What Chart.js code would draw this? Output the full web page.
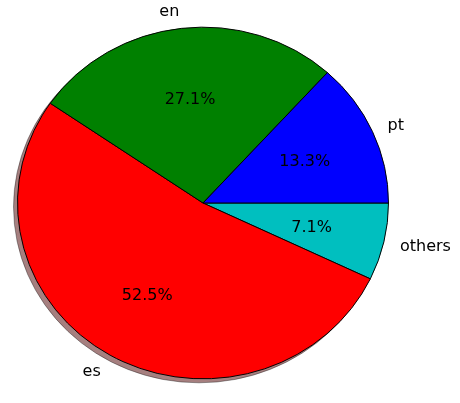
<!DOCTYPE html>
<html>
<head>
<meta charset="utf-8">
<script src="https://cdn.jsdelivr.net/npm/chart.js@4"></script>
<style>
html,body{margin:0;padding:0;background:#fff;}
#wrap{width:460px;height:403px;}
</style>
</head>
<body>
<div id="wrap"><canvas id="c" width="460" height="403"></canvas></div>
<script>
// Slices in matplotlib order (counter-clockwise from east)
const categories = ['pt', 'en', 'es', 'others'];
const shares = [13.3, 27.1, 52.5, 7.1];
const sliceColors = ['#0000ff', '#008000', '#ff0000', '#00bfbf'];

// Chart.js draws clockwise, so reverse the order
const cjLabels = categories.slice().reverse();
const cjData = shares.slice().reverse();
const cjColors = sliceColors.slice().reverse();

const K = 176.3 / 186; // vertical squash of the ellipse
const FONT = '16px "DejaVu Sans"';

const ellipsePlugin = {
  id: 'ellipse',
  beforeDatasetsDraw(chart) {
    const meta = chart.getDatasetMeta(0);
    const a = meta.data[0];
    const cx = a.x, cy = a.y, r = a.outerRadius;
    const ctx = chart.ctx;
    // shadow
    ctx.save();
    ctx.beginPath();
    ctx.ellipse(cx - 4, cy + 4, r, r * K, 0, 0, Math.PI * 2);
    ctx.fillStyle = 'rgba(77,0,0,0.5)';
    ctx.fill();
    ctx.lineWidth = 1;
    ctx.strokeStyle = 'rgba(0,0,0,0.35)';
    ctx.stroke();
    ctx.restore();
    ctx.save();
    ctx.translate(cx, cy);
    ctx.scale(1, K);
    ctx.translate(-cx, -cy);
  },
  afterDatasetsDraw(chart) {
    const ctx = chart.ctx;
    ctx.restore();
    const meta = chart.getDatasetMeta(0);
    const ds = chart.data.datasets[0].data;
    const total = ds.reduce((s, v) => s + v, 0);
    ctx.save();
    ctx.font = FONT;
    ctx.fillStyle = '#000';
    ctx.textBaseline = 'middle';
    meta.data.forEach((arc, i) => {
      const mid = (arc.startAngle + arc.endAngle) / 2;
      const r = arc.outerRadius;
      const c = Math.cos(mid), s = Math.sin(mid);
      // outer label
      const lx = arc.x + 1.1 * r * c + (c >= 0 ? -2 : 0);
      const ly = arc.y + 1.1 * r * K * s + 1;
      ctx.textAlign = c >= 0 ? 'left' : 'right';
      ctx.fillText(chart.data.labels[i], lx, ly);
      // percentage
      const px = arc.x + 0.6 * r * c;
      const py = arc.y + 0.6 * r * K * s + 2;
      ctx.textAlign = 'center';
      ctx.fillText((ds[i] / total * 100).toFixed(1) + '%', px, py);
    });
    ctx.restore();
  }
};

new Chart(document.getElementById('c'), {
  type: 'pie',
  data: {
    labels: cjLabels,
    datasets: [{
      data: cjData,
      backgroundColor: cjColors,
      borderColor: '#000',
      borderWidth: 1
    }]
  },
  options: {
    responsive: false,
    animation: false,
    rotation: 90,
    layout: { padding: { left: 17, right: 71, top: 17, bottom: 14 } },
    plugins: { legend: { display: false }, tooltip: { enabled: false } }
  },
  plugins: [ellipsePlugin]
});
</script>
</body>
</html>
